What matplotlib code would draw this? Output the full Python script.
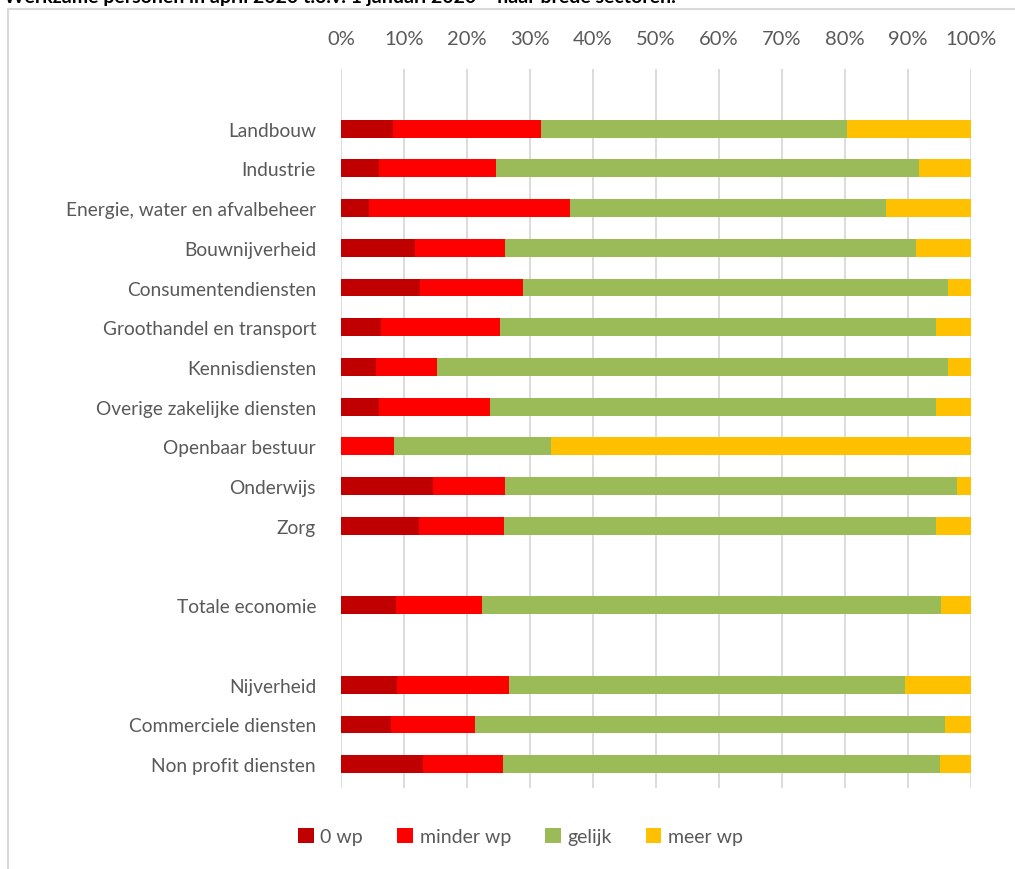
import numpy as np
import matplotlib
matplotlib.use('Agg')
import matplotlib.pyplot as plt
from matplotlib.patches import Rectangle, Patch

plt.rcParams['font.family'] = ['Lato', 'DejaVu Sans']

title = "Werkzame personen in april 2020 t.o.v. 1 januari 2020 \u2013 naar brede sectoren."

labels = ['Landbouw', 'Industrie', 'Energie, water en afvalbeheer', 'Bouwnijverheid',
          'Consumentendiensten', 'Groothandel en transport', 'Kennisdiensten',
          'Overige zakelijke diensten', 'Openbaar bestuur', 'Onderwijs', 'Zorg',
          'Totale economie',
          'Nijverheid', 'Commerciele diensten', 'Non profit diensten']
# blank row after these label indices
gap_after = [10, 11]

series_names = ['0 wp', 'minder wp', 'gelijk', 'meer wp']
nul_wp = [8.2, 6.1, 4.5, 11.8, 12.6, 6.3, 5.6, 6.1, 0.0, 14.6, 12.4, 8.7, 8.9, 8.0, 13.0]
minder_wp = [23.6, 18.5, 31.9, 14.2, 16.3, 18.9, 9.7, 17.6, 8.4, 11.5, 13.5, 13.7, 17.8, 13.2, 12.7]
gelijk = [48.5, 67.1, 50.1, 65.3, 67.5, 69.2, 81.1, 70.7, 25.0, 71.7, 68.5, 72.8, 62.8, 74.7, 69.3]
meer_wp = [19.7, 8.3, 13.5, 8.7, 3.6, 5.6, 3.6, 5.6, 66.6, 2.2, 5.6, 4.8, 10.5, 4.1, 5.0]
colors = ['#C00000', '#FF0000', '#9BBB59', '#FFC000']

grey = '#595959'

ypos = []
row = 0
for i in range(len(labels)):
    ypos.append(row)
    row += 2 if i in gap_after else 1
ypos = np.array(ypos)

fig = plt.figure(figsize=(10.15, 8.7), dpi=100)
ax = fig.add_axes([0.336, 0.0931, 0.6207, 0.8264])

left = np.zeros(len(labels))
for name, vals, c in zip(series_names, [nul_wp, minder_wp, gelijk, meer_wp], colors):
    vals = np.array(vals)
    ax.barh(ypos, vals, left=left, height=0.45, color=c, label=name, zorder=3)
    left += vals

ax.set_xlim(0, 100)
ax.set_ylim(ypos[-1] + 0.6, -1.5)
ax.set_xticks(np.arange(0, 101, 10))
ax.set_xticklabels([f'{v}%' for v in range(0, 101, 10)])
ax.xaxis.tick_top()
ax.set_yticks(ypos)
ax.set_yticklabels(labels)
ax.tick_params(axis='both', length=0, labelcolor=grey)
ax.tick_params(axis='x', pad=16, labelsize=14.5)
ax.tick_params(axis='y', pad=18, labelsize=13.8)
ax.grid(axis='x', color='#d9d9d9', lw=1.3, zorder=0)
for s in ax.spines.values():
    s.set_visible(False)

handles = [Patch(facecolor=c, label=n) for n, c in zip(series_names, colors)]
fig.legend(handles=handles, loc='center', bbox_to_anchor=(0.513, 0.037), ncol=4,
           frameon=False, fontsize=14, labelcolor=grey, handlelength=0.8,
           handleheight=0.8, handletextpad=0.35, columnspacing=1.75)

# chart frame
fig.patches.append(Rectangle((0.008, -0.1), 1.2, 1.0885, transform=fig.transFigure,
                             facecolor='none', edgecolor='#d9d9d9', lw=1.5))
fig.text(0.004, 1 - 3 / 870, title, fontsize=14, fontweight='bold', color='black',
         ha='left', va='baseline')

fig.savefig('out.png', dpi=100)
